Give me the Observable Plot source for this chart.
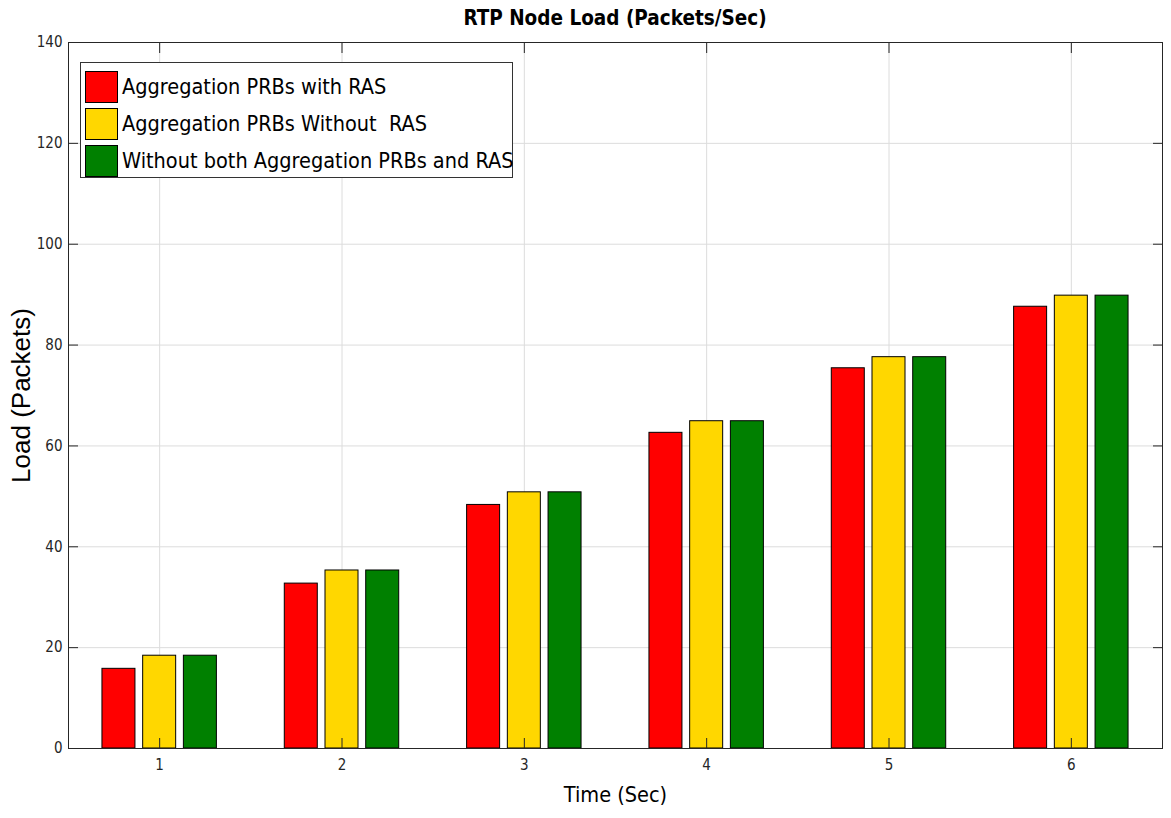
<!DOCTYPE html>
<html>
<head>
<meta charset="utf-8">
<script src="https://cdn.jsdelivr.net/npm/d3@7"></script>
<script src="https://cdn.jsdelivr.net/npm/@observablehq/plot@0.6"></script>
<style>
  html, body { margin: 0; padding: 0; background: #fff; }
  #wrap { position: relative; width: 1171px; height: 818px; overflow: hidden; }
  #title { height: 32px; box-sizing: border-box; padding: 6px 9px 0 68px; text-align: center;
    font-family: "DejaVu Sans Condensed", "DejaVu Sans", sans-serif; font-stretch: condensed;
    font-weight: bold; font-size: 20.5px; line-height: 25px; color: #000; }
  #legend { position: absolute; left: 80px; top: 62px; width: 433px; height: 116px; box-sizing: border-box;
    border: 1px solid #333; background: #fff; padding-top: 5px; }
  .item { display: flex; align-items: center; height: 37px; }
  .sw { flex: 0 0 33px; width: 33px; height: 32px; box-sizing: border-box; border: 1px solid #000; margin-left: 4px; margin-right: 4px; }
  .lab { font-family: "DejaVu Sans Condensed", "DejaVu Sans", sans-serif; font-stretch: condensed;
    font-size: 21.5px; color: #000; white-space: pre; }
</style>
</head>
<body>
<div id="wrap">
  <div id="title">RTP Node Load (Packets/Sec)</div>
  <div id="chart"></div>
  <div id="legend"></div>
</div>
<script>
// ---- data ----
const times = [1, 2, 3, 4, 5, 6];
const seriesNames = [
  "Aggregation PRBs with RAS",
  "Aggregation PRBs Without  RAS",
  "Without both Aggregation PRBs and RAS"
];
const withRAS     = [15.8, 32.7, 48.3, 62.6, 75.4, 87.6];
const withoutRAS  = [18.4, 35.3, 50.8, 64.9, 77.6, 89.8];
const withoutBoth = [18.4, 35.3, 50.8, 64.9, 77.6, 89.8];
const seriesColors = ["#ff0000", "#ffd700", "#008000"];
const yTicks = [0, 20, 40, 60, 80, 100, 120, 140];

// ---- table ----
const seriesValues = [withRAS, withoutRAS, withoutBoth];
const rows = [];
seriesNames.forEach((s, k) => times.forEach((t, i) => rows.push({time: t, series: s, k, value: seriesValues[k][i]})));

// grouped-bar layout (in category units)
const step = 0.2233, half = 0.0905;

const narrow = '"DejaVu Sans Condensed", "DejaVu Sans", sans-serif';
const tickColor = "#262626";

const chart = Plot.plot({
  width: 1171,
  height: 786,
  marginTop: 10,
  marginBottom: 70,
  marginLeft: 68,
  marginRight: 9,
  style: {fontFamily: narrow, fontSize: "15px", background: "#fff", fontStretch: "condensed"},
  x: {domain: [0.5, 6.5]},
  y: {domain: [0, 140]},
  color: {domain: seriesNames, range: seriesColors},
  marks: [
    Plot.gridX({ticks: times, stroke: "#dcdcdc", strokeOpacity: 1}),
    Plot.gridY({ticks: yTicks, stroke: "#dcdcdc", strokeOpacity: 1}),
    Plot.rectY(rows, {
      x1: d => d.time + (d.k - 1) * step - half,
      x2: d => d.time + (d.k - 1) * step + half,
      y: "value",
      fill: "series",
      stroke: "#000",
      strokeWidth: 1
    }),
    Plot.frame({stroke: tickColor, strokeWidth: 1}),
    Plot.axisY({anchor: "left", ticks: yTicks, tickSize: -10, tickPadding: 16, fontSize: 15, color: tickColor, label: null}),
    Plot.axisY({anchor: "right", ticks: yTicks, tickSize: -10, tickFormat: () => "", color: tickColor, label: null}),
    Plot.axisX({anchor: "bottom", ticks: times, tickSize: -10, tickPadding: 21, fontSize: 15, color: tickColor, label: null, tickFormat: d => String(d)}),
    Plot.axisX({anchor: "top", ticks: times, tickSize: -10, tickFormat: () => "", color: tickColor, label: null}),
    Plot.text(["Time (Sec)"], {frameAnchor: "bottom", dy: 53, fontSize: 21.5, fill: "#000", fontFamily: narrow}),
    Plot.text(["Load (Packets)"], {frameAnchor: "left", textAnchor: "middle", rotate: -90, dx: -47, fontSize: 26, fill: "#000",
      fontFamily: '"Liberation Sans", Arial, sans-serif'})
  ]
});
document.getElementById("chart").appendChild(chart);

// ---- legend ----
const legend = document.getElementById("legend");
seriesNames.forEach((s, k) => {
  const item = document.createElement("div");
  item.className = "item";
  const sw = document.createElement("div");
  sw.className = "sw";
  sw.style.background = seriesColors[k];
  const lab = document.createElement("span");
  lab.className = "lab";
  lab.textContent = s;
  item.appendChild(sw);
  item.appendChild(lab);
  legend.appendChild(item);
});
</script>
</body>
</html>
